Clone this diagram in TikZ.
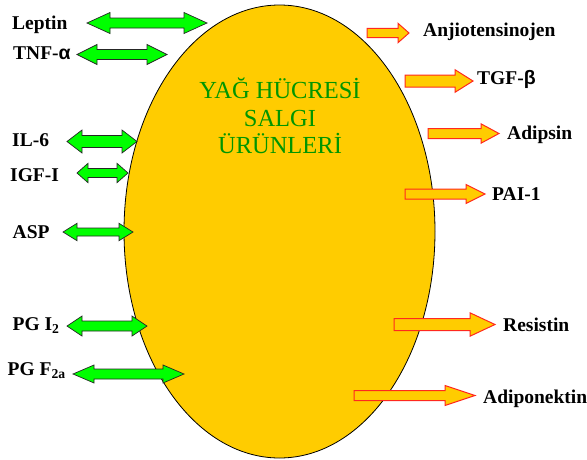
\documentclass[tikz,border=0pt]{standalone}
\usepackage{fontspec}
\setmainfont{Liberation Serif}
\newfontfamily\symfont{Liberation Sans}
\usetikzlibrary{positioning}

\definecolor{fatyellow}{RGB}{255,204,0}
\definecolor{pgreen}{RGB}{0,255,0}
\definecolor{titlegreen}{RGB}{0,150,0}
\definecolor{arrowred}{RGB}{255,40,30}

\tikzset{
  inarrow/.style={fill=pgreen, draw=black!85, line width=0.7pt},
  outarrow/.style={fill=fatyellow, draw=arrowred, line width=1pt},
  lbl/.style={font=\fontsize{19.5}{22}\selectfont\bfseries, inner sep=0pt, anchor=base west},
  ttl/.style={font=\fontsize{24.5}{27.5}\selectfont, text=titlegreen, inner sep=0pt, anchor=base},
}

% two-headed arrow: x1, x2, y, shaft half, head half, head length
\newcommand{\twoway}[6]{%
  \draw[inarrow] (#1,#3) -- ({#1+#6},{#3-#5}) -- ({#1+#6},{#3-#4}) -- ({#2-#6},{#3-#4})
    -- ({#2-#6},{#3-#5}) -- (#2,#3) -- ({#2-#6},{#3+#5}) -- ({#2-#6},{#3+#4})
    -- ({#1+#6},{#3+#4}) -- ({#1+#6},{#3+#5}) -- cycle;}
% one-headed arrow: x1, x2, y, shaft half, head half, head length
\newcommand{\oneway}[6]{%
  \draw[outarrow] (#1,{#3-#4}) -- ({#2-#6},{#3-#4}) -- ({#2-#6},{#3-#5}) -- (#2,#3)
    -- ({#2-#6},{#3+#5}) -- ({#2-#6},{#3+#4}) -- (#1,{#3+#4}) -- cycle;}

\begin{document}
\begin{tikzpicture}[x=1pt, y=-1pt]
    \useasboundingbox (0,0) rectangle (587,459);

    % Fat cell
    \draw[fill=fatyellow, line width=0.8pt] (279.5,231.5) ellipse [x radius=155.5, y radius=226.5];
    \node[ttl] (title1) at (280,98.3) {YAĞ HÜCRESİ};
    \node[ttl] (title2) at (280,126) {SALGI};
    \node[ttl] (title3) at (280,153.5) {ÜRÜNLERİ};

    % Two-way products (left)
    \twoway{87}{207}{23}{5}{10.5}{23}
    \twoway{77}{167}{54.5}{5}{10}{20}
    \twoway{67}{137}{141.5}{6}{11.5}{15}
    \twoway{77}{128}{173}{4.5}{9.7}{11}
    \twoway{63}{133}{232}{4}{8.7}{14}
    \twoway{67}{147}{326}{5}{10}{15}
    \twoway{73}{184}{374}{5}{9}{21}

    \node[lbl] (leptin) at (12,29.5) {Leptin};
    \node[lbl] (tnf) at (13,59.5) {TNF-{\symfont α}};
    \node[lbl] (il6) at (12,146.7) {IL-6};
    \node[lbl] (igf) at (10,181.7) {IGF-I};
    \node[lbl] (asp) at (12.5,238.3) {ASP};
    \node[lbl] (pgi) at (12.5,330.7) {PG I\textsubscript{2}};
    \node[lbl] (pgf) at (7.5,375) {PG F\textsubscript{2a}};

    % One-way products (right)
    \oneway{367}{409}{33}{4.7}{9.7}{11}
    \oneway{405}{473}{81}{6}{11.3}{18}
    \oneway{428}{499}{133.5}{5}{9.7}{18}
    \oneway{405}{485}{194}{5}{9.5}{19}
    \oneway{394}{495}{324.5}{6}{11.7}{25}
    \oneway{354}{475}{395.5}{5}{10}{30}

    \node[lbl] (anjio) at (423,36) {Anjiotensinojen};
    \node[lbl] (tgf) at (477,84) {TGF-{\symfont β}};
    \node[lbl] (adipsin) at (507,139.3) {Adipsin};
    \node[lbl] (pai) at (492,200.7) {PAI-1};
    \node[lbl] (resistin) at (503,331.7) {Resistin};
    \node[lbl] (adipo) at (483,403.3) {Adiponektin};
\end{tikzpicture}
\end{document}
